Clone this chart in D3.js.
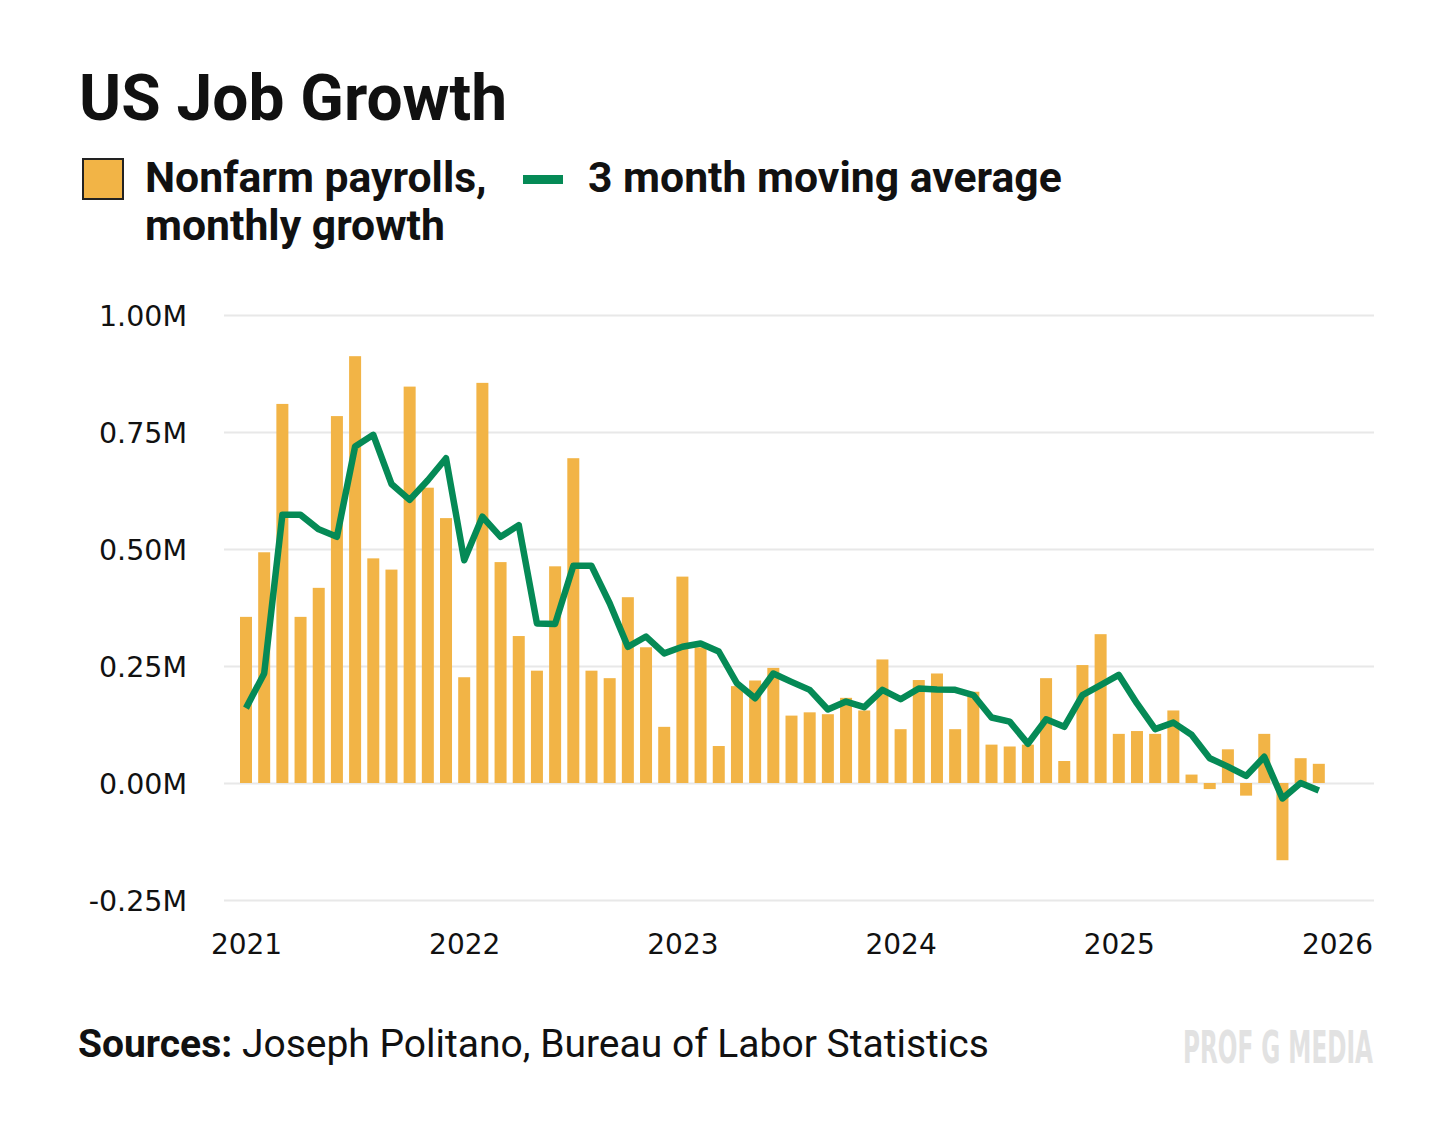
<!DOCTYPE html>
<html>
<head>
<meta charset="utf-8">
<script src="https://cdn.jsdelivr.net/npm/d3@7"></script>
<style>
  body { margin: 0; background: #fff; }
  svg { display: block; }
</style>
</head>
<body>
<div id="chart"></div>
<script>
// monthly nonfarm payroll change, millions, Jan 2021 .. Dec 2025
const payrolls = [
  0.355, 0.493, 0.810, 0.355, 0.417, 0.784, 0.912, 0.480, 0.456, 0.847, 0.631, 0.566,
  0.226, 0.855, 0.472, 0.314, 0.240, 0.463, 0.694, 0.240, 0.224, 0.397, 0.290, 0.120,
  0.441, 0.290, 0.079, 0.207, 0.219, 0.246, 0.144, 0.151, 0.147, 0.182, 0.155, 0.264,
  0.115, 0.220, 0.234, 0.115, 0.195, 0.082, 0.078, 0.082, 0.224, 0.047, 0.252, 0.318,
  0.105, 0.111, 0.105, 0.155, 0.018, -0.013, 0.072, -0.027, 0.105, -0.165, 0.053, 0.041
];

// 3 month moving average as drawn
const movingAvg = [
  0.160, 0.234, 0.573, 0.573, 0.542, 0.526, 0.719, 0.744, 0.639, 0.605, 0.647, 0.694,
  0.476, 0.569, 0.526, 0.551, 0.341, 0.340, 0.464, 0.464, 0.384, 0.291, 0.313, 0.277,
  0.291, 0.298, 0.281, 0.213, 0.181, 0.234, 0.216, 0.199, 0.157, 0.174, 0.162, 0.199,
  0.179, 0.202, 0.200, 0.199, 0.188, 0.140, 0.131, 0.084, 0.136, 0.120, 0.188, 0.209,
  0.231, 0.170, 0.115, 0.129, 0.103, 0.053, 0.035, 0.015, 0.056, -0.033, 0.000, -0.016
];

const yearLabels = ["2021", "2022", "2023", "2024", "2025", "2026"];
const yTicks = [-0.25, 0, 0.25, 0.5, 0.75, 1.0];

const width = 1456, height = 1139;
const barColor = "#F2B446";
const lineColor = "#058A56";

const svg = d3.select("#chart").append("svg")
  .attr("width", width)
  .attr("height", height);

// title
svg.append("text")
  .attr("x", 79).attr("y", 120)
  .style("font-family", "Roboto")
  .style("font-weight", 700)
  .style("font-size", "64px")
  .attr("fill", "#111")
  .text("US Job Growth");

// legend
const legend = svg.append("g").style("font-family", "Roboto").style("font-weight", 700)
  .style("font-size", "42.7px").attr("fill", "#111");

legend.append("rect")
  .attr("x", 83).attr("y", 159).attr("width", 40).attr("height", 40)
  .attr("fill", barColor).attr("stroke", "#222").attr("stroke-width", 2);
legend.append("text").attr("x", 145).attr("y", 192).text("Nonfarm payrolls,");
legend.append("text").attr("x", 145).attr("y", 240).text("monthly growth");

legend.append("rect")
  .attr("x", 523).attr("y", 175).attr("width", 40).attr("height", 9)
  .attr("fill", lineColor);
legend.append("text").attr("x", 588).attr("y", 192).text("3 month moving average");

// scales
const x = d3.scaleLinear()
  .domain([0, 60])
  .range([246, 1337]);

const y = d3.scaleLinear()
  .domain([-0.25, 1.0])
  .range([900, 315]);

const step = x(1) - x(0);
const barW = step * 0.66;

// gridlines + y labels
const yAxis = svg.append("g")
  .attr("transform", "translate(224,0)")
  .call(d3.axisLeft(y)
    .tickValues(yTicks)
    .tickSize(-1150)
    .tickPadding(37)
    .tickFormat(d => d3.format(".2f")(d).replace("\u2212", "-") + "M"));

yAxis.select(".domain").remove();
yAxis.selectAll(".tick line").attr("stroke", "#e8e8e8").attr("stroke-width", 2);
yAxis.selectAll(".tick text")
  .style("font-family", "DejaVu Sans")
  .style("font-size", "28.5px")
  .attr("fill", "#111")
  .attr("dy", "0.36em");

// x labels
const xAxis = svg.append("g")
  .attr("transform", "translate(0,900)")
  .call(d3.axisBottom(x)
    .tickValues(d3.range(0, 61, 12))
    .tickSize(0)
    .tickPadding(34)
    .tickFormat((d, i) => yearLabels[i]));

xAxis.select(".domain").remove();
xAxis.selectAll(".tick text")
  .style("font-family", "DejaVu Sans")
  .style("font-size", "28px")
  .attr("fill", "#111");

// bars
svg.append("g")
  .selectAll("rect")
  .data(payrolls)
  .join("rect")
  .attr("x", (d, i) => x(i) - barW / 2)
  .attr("y", d => y(Math.max(0, d)))
  .attr("width", barW)
  .attr("height", d => Math.abs(y(d) - y(0)))
  .attr("fill", barColor);

// moving average line
const line = d3.line()
  .x((d, i) => x(i))
  .y(d => y(d));

svg.append("path")
  .datum(movingAvg)
  .attr("d", line)
  .attr("fill", "none")
  .attr("stroke", lineColor)
  .attr("stroke-width", 6.5)
  .attr("stroke-linejoin", "round");

// footer
const foot = svg.append("text")
  .attr("x", 78).attr("y", 1057)
  .style("font-family", "Roboto")
  .style("font-size", "39px")
  .attr("fill", "#111");
foot.append("tspan").style("font-weight", 700).text("Sources:");
foot.append("tspan").text(" Joseph Politano, Bureau of Labor Statistics");

// watermark, squeezed horizontally
const mark = svg.append("text")
  .attr("x", 0).attr("y", 0)
  .style("font-family", "DejaVu Sans Condensed, DejaVu Sans")
  .style("font-weight", 700)
  .style("font-size", "44px")
  .attr("fill", "#e2e2e2")
  .text("PROF G MEDIA");
const mw = mark.node().getComputedTextLength();
mark.attr("transform", `translate(1183,1063) scale(${190 / mw},1)`);
</script>
</body>
</html>
